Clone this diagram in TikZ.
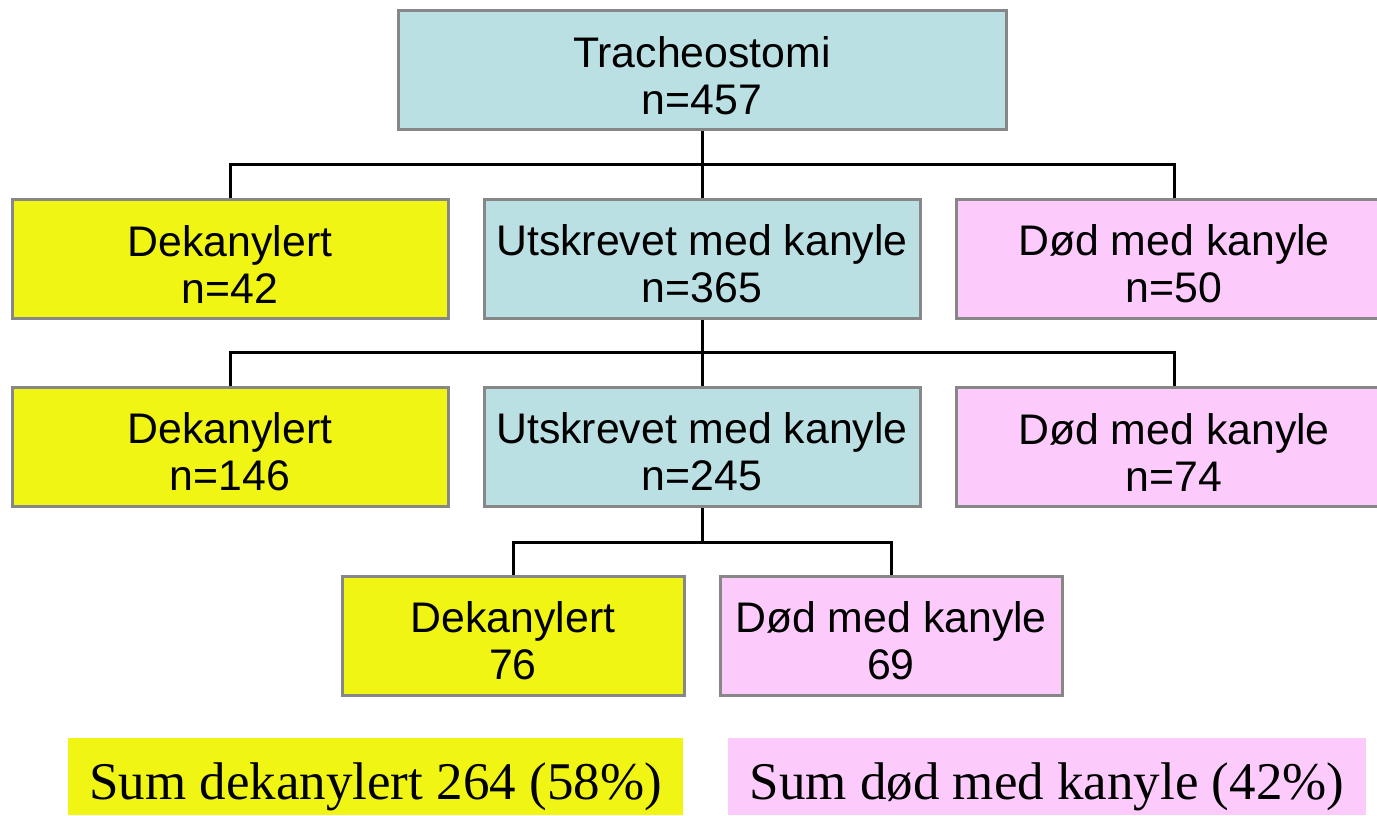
\documentclass[tikz,border=0pt]{standalone}
\usepackage{fontspec}
\setmainfont{Liberation Serif}
\setsansfont{Liberation Sans}
\usepackage{xcolor}
\usetikzlibrary{positioning}

\definecolor{tealbox}{HTML}{BBE0E3}
\definecolor{yellowbox}{HTML}{F0F514}
\definecolor{pinkbox}{HTML}{FCCBFC}
\definecolor{edgegray}{HTML}{878787}

% extra room above the first line of a box
\newcommand{\boxstrut}{\rule{0pt}{21pt}}

\begin{document}
\begin{tikzpicture}[
  x=0.5pt, y=-0.5pt,
  box/.style={
    draw=edgegray,
    line width=1.5pt,
    align=center,
    inner sep=0pt,
    minimum width=218pt,
    minimum height=59.5pt,
    font=\sffamily\fontsize{21.4}{23.5}\selectfont
  },
  stay/.style={box, fill=tealbox},
  decan/.style={box, fill=yellowbox},
  died/.style={box, fill=pinkbox},
  small/.style={minimum width=171pt},
  sumbox/.style={
    inner sep=0pt,
    minimum height=38.5pt,
    font=\rmfamily\fontsize{26.5}{30}\selectfont,
    execute at begin node={\rule{0pt}{29pt}}
  },
  conn/.style={draw=black, line width=1.5pt}
]
  \useasboundingbox (0,0) rectangle (1377,815);

  % Top
  \node[stay, minimum width=304pt] (trach) at (702,70) {\boxstrut Tracheostomi\\n=457};

  % First row
  \node[decan] (dek1) at (230,258.5) {\boxstrut Dekanylert\\n=42};
  \node[stay] (utsk1) at (702,258.5) {\boxstrut Utskrevet med kanyle\\n=365};
  \node[died] (dod1) at (1174,258.5) {\boxstrut Død med kanyle\\n=50};

  \coordinate (bar1) at (702,164);
  \draw[conn] (trach.south) -- (bar1);
  \draw[conn] (bar1) -| (dek1.north);
  \draw[conn] (bar1) -- (utsk1.north);
  \draw[conn] (bar1) -| (dod1.north);

  % Second row
  \node[decan] (dek2) at (230,446.5) {\boxstrut Dekanylert\\n=146};
  \node[stay] (utsk2) at (702,446.5) {\boxstrut Utskrevet med kanyle\\n=245};
  \node[died] (dod2) at (1174,446.5) {\boxstrut Død med kanyle\\n=74};

  \coordinate (bar2) at (702,352);
  \draw[conn] (utsk1.south) -- (bar2);
  \draw[conn] (bar2) -| (dek2.north);
  \draw[conn] (bar2) -- (utsk2.north);
  \draw[conn] (bar2) -| (dod2.north);

  % Third row
  \node[decan, small] (dek3) at (513,635.5) {\boxstrut Dekanylert\\76};
  \node[died, small] (dod3) at (891,635.5) {\boxstrut Død med kanyle\\69};

  \coordinate (bar3) at (702,542);
  \draw[conn] (utsk2.south) -- (bar3);
  \draw[conn] (bar3) -| (dek3.north);
  \draw[conn] (bar3) -| (dod3.north);

  % Sums
  \node[sumbox, fill=yellowbox, minimum width=307.5pt] (sumdek) at (375.5,776.5)
    {Sum dekanylert 264 (58\%)};
  \node[sumbox, fill=pinkbox, minimum width=319pt] (sumdod) at (1047,776.5)
    {Sum død med kanyle (42\%)};
\end{tikzpicture}
\end{document}
